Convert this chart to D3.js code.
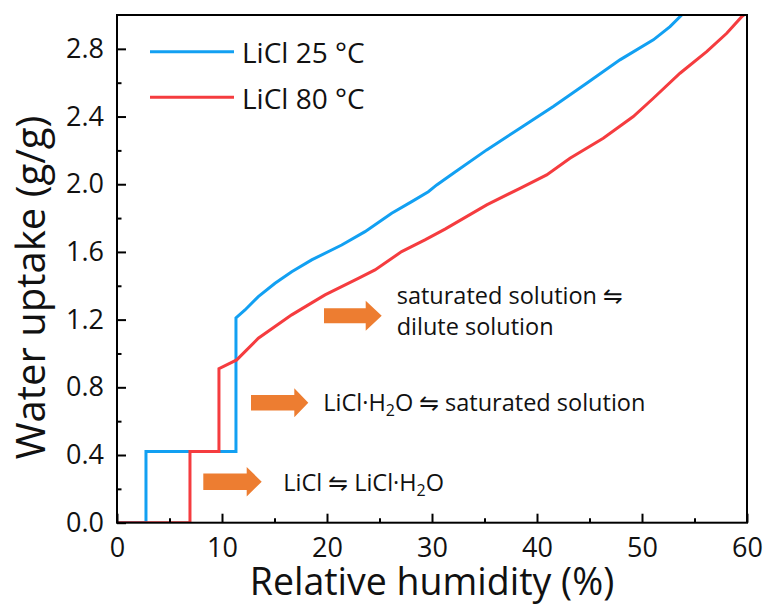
<!DOCTYPE html>
<html>
<head>
<meta charset="utf-8">
<script src="https://cdn.jsdelivr.net/npm/d3@7"></script>
<style>
  html, body { margin: 0; padding: 0; background: #fff; }
  svg { display: block; font-family: "Open Sans", "DejaVu Sans", sans-serif; }
</style>
</head>
<body>
<svg id="chart" width="769" height="605"></svg>
<script>
// Water uptake isotherms of LiCl at two temperatures
const seriesNames = ["LiCl 25 °C", "LiCl 80 °C"];
const seriesColors = ["#12A0F2", "#F53C3F"];

const rh25 = [0, 2.76, 2.76, 11.33, 11.33, 12.19, 13.46, 15.05, 16.64, 18.54, 21.4, 23.62,
              26.16, 28.07, 29.65, 30.45, 32.03, 35.21, 38.38, 41.55, 44.73, 47.9, 51.08, 52.67, 53.78];
const uptake25 = [0, 0, 0.42, 0.42, 1.21, 1.257, 1.336, 1.415, 1.483, 1.553, 1.641, 1.72,
                  1.829, 1.897, 1.956, 1.996, 2.065, 2.203, 2.331, 2.459, 2.597, 2.735, 2.853, 2.931, 3.0];

const rh80 = [0, 6.95, 6.95, 9.71, 9.71, 11.4, 13.46, 16.64, 18.38, 19.81, 22.98, 24.57, 27.11,
              29.33, 31.24, 35.21, 38.38, 40.92, 43.14, 46.31, 49.17, 51.08, 53.62, 56.16,
              58.07, 59.5, 59.7];
const uptake80 = [0, 0, 0.42, 0.42, 0.91, 0.962, 1.09, 1.228, 1.293, 1.346, 1.444, 1.494, 1.602,
                  1.671, 1.735, 1.878, 1.976, 2.055, 2.154, 2.272, 2.4, 2.508, 2.656, 2.784,
                  2.892, 2.99, 3.0];

const xTicks = [0, 10, 20, 30, 40, 50, 60];
const xMinorTicks = [5, 15, 25, 35, 45, 55];
const yTicks = [0, 0.4, 0.8, 1.2, 1.6, 2.0, 2.4, 2.8];
const yMinorTicks = [0.2, 0.6, 1.0, 1.4, 1.8, 2.2, 2.6];

const xLabel = "Relative humidity (%)";
const yLabel = "Water uptake (g/g)";

const svg = d3.select("#chart");
const plotLeft = 117, plotRight = 747, plotTop = 15, plotBottom = 522.7;

const x = d3.scaleLinear().domain([0, 60]).range([plotLeft, plotRight]);
const y = d3.scaleLinear().domain([0, 3.0]).range([plotBottom, plotTop]);

svg.append("defs").append("clipPath").attr("id", "plotClip")
  .append("rect").attr("x", plotLeft).attr("y", plotTop)
  .attr("width", plotRight - plotLeft).attr("height", plotBottom - plotTop);

// Curves: 25 °C first, 80 °C drawn over it
const series = [
  { xs: rh25, ys: uptake25, color: seriesColors[0] },
  { xs: rh80, ys: uptake80, color: seriesColors[1] }
];
const line = d3.line().x(d => x(d[0])).y(d => y(d[1]));
series.forEach(s => {
  svg.append("path")
    .datum(s.xs.map((v, i) => [v, s.ys[i]]))
    .attr("clip-path", "url(#plotClip)")
    .attr("fill", "none")
    .attr("stroke", s.color)
    .attr("stroke-width", 3)
    .attr("stroke-linejoin", "miter")
    .attr("d", line);
});

// Axes with inward ticks
const tickFont = 27;
const xAxis = svg.append("g").attr("transform", `translate(0,${plotBottom})`)
  .call(d3.axisBottom(x).tickValues(xTicks).tickFormat(d3.format("d"))
        .tickSizeInner(-9).tickSizeOuter(0).tickPadding(15));
const xMinor = svg.append("g").attr("transform", `translate(0,${plotBottom})`)
  .call(d3.axisBottom(x).tickValues(xMinorTicks).tickFormat("")
        .tickSizeInner(-4.5).tickSizeOuter(0));
const yAxis = svg.append("g").attr("transform", `translate(${plotLeft},0)`)
  .call(d3.axisLeft(y).tickValues(yTicks).tickFormat(d3.format(".1f"))
        .tickSizeInner(-9).tickSizeOuter(0).tickPadding(13));
const yMinor = svg.append("g").attr("transform", `translate(${plotLeft},0)`)
  .call(d3.axisLeft(y).tickValues(yMinorTicks).tickFormat("")
        .tickSizeInner(-4.5).tickSizeOuter(0));

[xAxis, xMinor, yAxis, yMinor].forEach(g => {
  g.select(".domain").remove();
  g.selectAll(".tick line").attr("stroke", "#000").attr("stroke-width", 2);
  g.selectAll("text").attr("font-size", tickFont).attr("fill", "#111")
    .attr("font-family", "'Open Sans', sans-serif");
});

// Frame
svg.append("rect")
  .attr("x", plotLeft).attr("y", plotTop)
  .attr("width", plotRight - plotLeft).attr("height", plotBottom - plotTop)
  .attr("fill", "none").attr("stroke", "#000").attr("stroke-width", 2);

// Axis titles
svg.append("text")
  .attr("x", (plotLeft + plotRight) / 2).attr("y", 595)
  .attr("text-anchor", "middle").attr("font-size", 37.5).attr("fill", "#111")
  .text(xLabel);
svg.append("text")
  .attr("transform", "translate(45,287.5) rotate(-90)")
  .attr("text-anchor", "middle").attr("font-size", 40).attr("fill", "#111")
  .text(yLabel);

// Legend
const legend = svg.append("g");
seriesNames.forEach((name, i) => {
  const ly = 51.7 + i * 45.6;
  legend.append("line")
    .attr("x1", 150).attr("x2", 234).attr("y1", ly).attr("y2", ly)
    .attr("stroke", seriesColors[i]).attr("stroke-width", 3);
  legend.append("text")
    .attr("x", 242).attr("y", ly + 11.5)
    .attr("font-size", 28).attr("fill", "#111")
    .text(name);
});

// Phase-transition annotations: block arrow + label
const orange = "#ED7D31";
function blockArrow(x0, xHead, xTip, cy, shaftHalf, headHalf) {
  const pts = [
    [x0, cy - shaftHalf], [xHead, cy - shaftHalf], [xHead, cy - headHalf],
    [xTip, cy], [xHead, cy + headHalf], [xHead, cy + shaftHalf], [x0, cy + shaftHalf]
  ];
  svg.append("path").attr("d", d3.line()(pts) + "Z").attr("fill", orange);
}

function label(xPos, yPos, parts) {
  const t = svg.append("text").attr("x", xPos).attr("y", yPos)
    .attr("font-size", 23.5).attr("fill", "#111");
  let shifted = 0;
  parts.forEach(p => {
    if (p.sub) {
      t.append("tspan").attr("font-size", 16).attr("dy", 5).text(p.sub);
      shifted = -5;
    } else {
      const ts = t.append("tspan").text(p.t);
      if (shifted) { ts.attr("dy", shifted); shifted = 0; }
    }
  });
}

blockArrow(203.3, 246.7, 261.7, 481.7, 8.3, 14.7);
label(283.3, 490.7, [{ t: "LiCl ⇋ LiCl·H" }, { sub: "2" }, { t: "O" }]);

blockArrow(251, 294.3, 308.3, 402.8, 7.8, 14.5);
label(323.3, 411, [{ t: "LiCl·H" }, { sub: "2" }, { t: "O ⇋ saturated solution" }]);

blockArrow(324, 365.7, 381.7, 315.8, 7.5, 15);
label(396.7, 304, [{ t: "saturated solution ⇋" }]);
label(396.7, 335, [{ t: "dilute solution" }]);
</script>
</body>
</html>
